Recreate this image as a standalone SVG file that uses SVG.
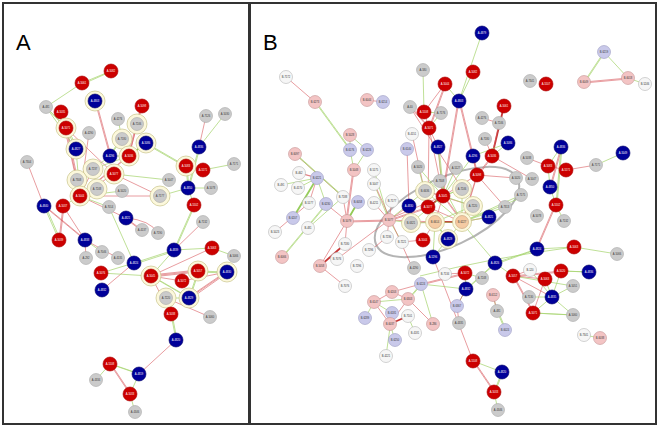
<svg xmlns="http://www.w3.org/2000/svg" width="660" height="429" viewBox="0 0 660 429">
<style>
.fr{fill:none;stroke:#333;stroke-width:2}
.lab{font-family:"Liberation Sans",Arial,sans-serif;font-size:22px;fill:#000}
.r{stroke:#d9595e;stroke-width:.7;fill:none;opacity:.85}
.rr{stroke:#c02020;stroke-width:1.8;fill:none;opacity:.9}
.g{stroke:#a6d46e;stroke-width:.8;fill:none;opacity:.9}
.gg{stroke:#8cc84a;stroke-width:1.8;fill:none;opacity:.9}
.R{fill:#cc0000;stroke:#a80000;stroke-width:.6}
.B{fill:#000099;stroke:#000066;stroke-width:.6}
.G{fill:#cbcbcb;stroke:#a8a8a8;stroke-width:.6}
.P{fill:#f3c4c4;stroke:#c49494;stroke-width:.6}
.L{fill:#c9c9ea;stroke:#9c9cc2;stroke-width:.6}
.W{fill:#f6f6f6;stroke:#b5b5b5;stroke-width:.6}
.O{fill:#f5cba3;stroke:#c49c78;stroke-width:.6}
.h{fill:#fcf8dc;stroke:#c9c48a;stroke-width:.7}
.ell{fill:none;stroke:#b4b4b4;stroke-width:2}
text.t{font-family:"Liberation Sans",Arial,sans-serif;font-size:2.6px;text-anchor:middle;fill:#333}
text.w{font-family:"Liberation Sans",Arial,sans-serif;font-size:2.6px;text-anchor:middle;fill:#fff}
</style>
<rect x="0" y="0" width="660" height="429" fill="#fff"/>
<rect class="fr" x="3" y="3" width="246" height="421"/>
<rect class="fr" x="250" y="3" width="406" height="421"/>
<text class="lab" x="16" y="50">A</text>
<text class="lab" x="263" y="50">B</text>
<ellipse class="ell" cx="447" cy="212" rx="78" ry="34" transform="rotate(-25 447 212)"/>
<g id="connectors">
<path class="g" d="M111,71L82,83M110,72L83,84M82,83L46,107M46,107L66,128M47,108L67,129"/>
<path class="r" d="M61,112L80,196M95,101L110,156M96,101L111,156M142,106L129,156M141,106L128,156M142,106L137,124"/>
<path class="r" d="M66,128L80,196M67,128L81,196M66,128L114,174"/>
<path class="g" d="M66,128L76,149M67,127L77,148M76,149L80,196M46,107L76,149"/>
<path class="g" d="M118,119L122,139M122,139L129,156M122,139L110,156M121,139L109,156"/>
<path class="gg" d="M146,143L129,156M122,139L129,156"/>
<path class="r" d="M137,124L129,156M129,156L80,196M128,156L79,196"/>
<path class="g" d="M146,143L186,166M146,144L186,167M110,156L129,156M110,156L93,169M129,156L93,169"/>
<path class="r" d="M114,174L80,196M114,174L160,196M93,169L80,196M80,196L160,196M80,196L126,218M89,133L80,196"/>
<path class="g" d="M114,174L169,180M77,180L80,196M97,189L80,196M80,196L122,191M80,196L109,207M80,196L63,206M160,196L188,188"/>
<path class="r" d="M27,162L44,206M44,206L85,240M45,206L86,240M63,206L85,240M85,240L118,258M85,240L86,258"/>
<path class="r" d="M63,206L59,240M64,206L60,240M126,218L142,230M126,219L142,231M126,218Q150,220 158,233"/>
<path class="g" d="M44,206L59,240M45,205L60,239M85,240L102,252M109,207L134,263"/>
<path class="r" d="M199,147L206,116"/>
<path class="g" d="M199,147L225,114M199,147L188,188M200,147L189,188M186,166L188,188M187,166L189,188M203,170L234,164M188,188L194,205M188,188L211,188"/>
<path class="r" d="M186,166L203,170"/>
<path class="g" d="M194,205L174,250M195,205L175,250M174,250L212,248M174,250L134,263M175,251L135,264M174,250L151,276M134,263L101,273"/>
<path class="r" d="M174,250L203,222M212,248L151,276M134,263L102,290"/>
<path class="g" d="M212,248L234,256M101,273L151,276M151,276L189,298M152,276L190,298"/>
<path class="r" d="M151,276L198,271M151,277L198,272M151,275L198,270M151,276L182,281M151,276L171,314"/>
<path class="g" d="M198,271L227,272M198,272L227,273M198,271L189,298M199,271L190,298M166,298L189,298"/>
<path class="r" d="M227,272L189,298M227,273L190,299M227,271L189,297M227,272L182,281M166,298L171,314M166,298L210,317"/>
<path class="g" d="M171,314L176,340M172,314L177,340M110,364L139,374M111,364L140,374M110,364L96,380M139,374L130,394"/>
<path class="r" d="M176,340L139,374M110,364L130,394M111,364L131,394"/>
<path class="g" d="M130,394L135,412"/>
<path class="r" d="M286,77L315,102M367,100L383,102"/>
<path class="g" d="M315,102L350,150M316,102L351,150M350,135L350,150M350,135L367,150M350,150L354,170M367,150L354,170M423,70L424,112"/>
<path class="r" d="M410,107L429,128M411,107L430,128M445,84L424,112M445,84L429,128M446,84L430,128M424,112L429,128M429,128L438,147M429,128L443,196M429,128L428,207M412,134L428,207"/>
<path class="g" d="M441,113L429,128M445,84L459,101M459,101L482,33M459,101L473,72M441,113L424,112"/>
<path class="r" d="M459,101L477,175M460,101L478,175M459,101L443,196M458,101L442,196M410,107L463,190"/>
<path class="g" d="M604,52L584,82M605,52L585,82M604,52L628,78M628,78L645,84"/>
<path class="r" d="M584,82L628,78M584,83L628,79"/>
<path class="rr" d="M504,106L492,156"/>
<path class="r" d="M482,118L499,123M499,123L492,156M485,139L492,156M561,147L550,187M562,147L551,187M527,158L548,166M566,170L596,165M566,170L548,166"/>
<path class="g" d="M508,143L492,156M508,143L473,156M561,147L556,205M562,147L557,205M596,165L623,153M550,187L556,205M556,205L564,221M548,166L550,187M561,147L548,166"/>
<path class="r" d="M556,205L537,249M555,205L536,249M516,178L477,175M532,179L492,156"/>
<path class="g" d="M537,249L574,247M574,247L617,254M537,249L495,263M538,249L496,264M574,247Q490,258 420,276"/>
<path class="r" d="M407,149L409,206M438,147L443,196M473,156L477,175M492,156L477,175M492,157L478,176M477,175L443,196M477,175L462,222M477,176L463,222M477,175L505,207"/>
<path class="g" d="M438,147L443,196M439,147L444,196M473,156L443,196M456,168L443,196M418,167L443,196M440,181L462,222"/>
<path class="r" d="M354,170L347,221M353,170L346,221M295,154L343,197"/>
<path class="g" d="M295,154L343,197M296,154L344,197M281,185L317,178M298,188L317,178M317,178L326,204M358,202L347,221"/>
<path class="r" d="M299,173L317,178M300,173L318,178M317,178L309,203M309,203L275,232M326,204L347,221M347,221L389,220M347,222L389,221M347,221L345,244M343,197L347,221M347,221L320,266M374,203L389,220"/>
<path class="gg" d="M358,202L347,221M317,178L293,218"/>
<path class="rr" d="M345,244L320,266"/>
<path class="g" d="M326,204L282,257M327,204L283,257M343,197L308,228M374,170L389,220M374,184L389,220"/>
<path class="r" d="M389,220L409,206M389,220L392,201M389,220L387,237M389,220L428,207M389,221L428,208M389,220L435,222M389,219L443,196M389,220L337,259M402,242L423,240M387,237L370,251"/>
<path class="g" d="M389,220L411,223M389,220L425,191M389,220L402,242"/>
<path class="r" d="M425,191L443,196M443,196L435,222M443,196L462,222M428,207L462,222M428,207L435,222M444,196L463,222M411,223L435,222M425,191L473,206M423,240L435,222M462,222L489,217"/>
<path class="rr" d="M435,222L462,222M443,196L428,207"/>
<path class="g" d="M425,191L435,222M462,189L462,222M462,189L443,196M473,206L462,222M489,217L462,222M435,222L448,239M462,222L448,239M434,222L447,239M411,223L462,222M435,222L473,206M443,196L473,206M425,191L462,222M411,223L443,196M462,222L505,207M443,196L462,189M462,222L523,197M418,167L425,191"/>
<path class="g" d="M448,239L433,257M435,222L433,257M462,222L521,195M462,223L496,263"/>
<path class="r" d="M433,257L473,361M445,274L465,273M374,183L412,267"/>
<path class="g" d="M465,273L482,278M465,273L466,289M466,289L495,263M467,289L496,263M466,289L457,306M421,284L466,289"/>
<path class="r" d="M466,289L457,306M457,306L459,323M421,284L465,273M421,285L465,274"/>
<path class="r" d="M513,276L530,270M513,276L545,279M513,276L561,271M513,277L561,272M513,276L552,297M513,276L533,313M514,276L534,313M545,279L533,313"/>
<path class="g" d="M513,276L573,286M530,270L552,297M545,279L552,297M561,271L552,297M561,271L589,272M562,271L590,272M552,297L533,313M552,297L573,315M529,297L552,297M533,313L573,315M534,313L574,315M573,286L552,297"/>
<path class="g" d="M495,263L513,276M493,295L497,311M497,311L505,330M498,311L506,330M584,335L600,338"/>
<path class="r" d="M493,295L497,311"/>
<path class="g" d="M502,372L494,392M503,372L495,392M473,361L502,372M494,392L498,410"/>
<path class="r" d="M473,361L494,392M474,361L495,392"/>
<path class="r" d="M345,286L320,266M392,292L374,302M392,292L408,299M408,299L390,324M408,299L433,324M374,302L390,324M392,292L421,284"/>
<path class="g" d="M374,302L408,299M374,302L392,313M374,302L365,318M408,299L421,284M409,299L422,284M421,284L433,324M392,313L386,356M390,324L395,340M408,316L415,333M392,313L390,324"/>
<path class="rr" d="M390,324L408,316"/>
</g>
<g id="node-a1"><circle class="R" cx="111" cy="71" r="7"/><text class="w" x="111" y="72">A-5082</text></g>
<g id="node-a2"><circle class="R" cx="82" cy="83" r="7"/><text class="w" x="82" y="84">A-5061</text></g>
<g id="node-a3"><circle class="G" cx="46" cy="107" r="6.5"/><text class="t" x="46" y="108">A-481</text></g>
<g id="node-a4"><circle class="h" cx="95" cy="101" r="10"/><circle class="B" cx="95" cy="101" r="7"/><text class="w" x="95" y="102">A-4803</text></g>
<g id="node-a5"><circle class="R" cx="61" cy="112" r="7"/><text class="w" x="61" y="113">A-5035</text></g>
<g id="node-a6"><circle class="R" cx="142" cy="106" r="7"/><text class="w" x="142" y="107">A-5098</text></g>
<g id="node-a7"><circle class="G" cx="118" cy="119" r="6.5"/><text class="t" x="118" y="120">A-4276</text></g>
<g id="node-a8"><circle class="h" cx="137" cy="124" r="10"/><circle class="G" cx="137" cy="124" r="6.5"/><text class="t" x="137" y="125">A-7246</text></g>
<g id="node-a9"><circle class="h" cx="66" cy="128" r="10"/><circle class="R" cx="66" cy="128" r="7"/><text class="w" x="66" y="129">A-5071</text></g>
<g id="node-a10"><circle class="G" cx="89" cy="133" r="6.5"/><text class="t" x="89" y="134">A-4290</text></g>
<g id="node-a11"><circle class="h" cx="122" cy="139" r="10"/><circle class="G" cx="122" cy="139" r="6.5"/><text class="t" x="122" y="140">A-7180</text></g>
<g id="node-a12"><circle class="h" cx="146" cy="143" r="10"/><circle class="B" cx="146" cy="143" r="7"/><text class="w" x="146" y="144">A-5086</text></g>
<g id="node-a13"><circle class="h" cx="76" cy="149" r="10"/><circle class="B" cx="76" cy="149" r="7"/><text class="w" x="76" y="150">A-4827</text></g>
<g id="node-a14"><circle class="B" cx="110" cy="156" r="7"/><text class="w" x="110" y="157">A-4296</text></g>
<g id="node-a15"><circle class="h" cx="129" cy="156" r="10"/><circle class="R" cx="129" cy="156" r="7"/><text class="w" x="129" y="157">A-5036</text></g>
<g id="node-a16"><circle class="G" cx="27" cy="162" r="6.5"/><text class="t" x="27" y="163">A-7304</text></g>
<g id="node-a17"><circle class="h" cx="93" cy="169" r="10"/><circle class="G" cx="93" cy="169" r="6.5"/><text class="t" x="93" y="170">A-7237</text></g>
<g id="node-a18"><circle class="h" cx="114" cy="174" r="10"/><circle class="R" cx="114" cy="174" r="7"/><text class="w" x="114" y="175">A-5077</text></g>
<g id="node-a19"><circle class="h" cx="77" cy="180" r="10"/><circle class="G" cx="77" cy="180" r="6.5"/><text class="t" x="77" y="181">A-7308</text></g>
<g id="node-a20"><circle class="h" cx="97" cy="189" r="10"/><circle class="G" cx="97" cy="189" r="6.5"/><text class="t" x="97" y="190">A-7248</text></g>
<g id="node-a21"><circle class="h" cx="80" cy="196" r="10"/><circle class="R" cx="80" cy="196" r="7"/><text class="w" x="80" y="197">A-5044</text></g>
<g id="node-a22"><circle class="G" cx="122" cy="191" r="6.5"/><text class="t" x="122" y="192">A-5020</text></g>
<g id="node-a23"><circle class="G" cx="169" cy="180" r="6.5"/><text class="t" x="169" y="181">A-5047</text></g>
<g id="node-a24"><circle class="h" cx="160" cy="196" r="10"/><circle class="G" cx="160" cy="196" r="6.5"/><text class="t" x="160" y="197">A-7177</text></g>
<g id="node-a25"><circle class="G" cx="206" cy="116" r="6.5"/><text class="t" x="206" y="117">A-7126</text></g>
<g id="node-a26"><circle class="G" cx="225" cy="114" r="6.5"/><text class="t" x="225" y="115">A-5030</text></g>
<g id="node-a27"><circle class="B" cx="199" cy="147" r="7"/><text class="w" x="199" y="148">A-4836</text></g>
<g id="node-a28"><circle class="h" cx="186" cy="166" r="10"/><circle class="R" cx="186" cy="166" r="7"/><text class="w" x="186" y="167">A-5083</text></g>
<g id="node-a29"><circle class="R" cx="203" cy="170" r="7"/><text class="w" x="203" y="171">A-5171</text></g>
<g id="node-a30"><circle class="G" cx="234" cy="164" r="6.5"/><text class="t" x="234" y="165">A-7171</text></g>
<g id="node-a31"><circle class="B" cx="188" cy="188" r="7"/><text class="w" x="188" y="189">A-4850</text></g>
<g id="node-a32"><circle class="G" cx="211" cy="188" r="6.5"/><text class="t" x="211" y="189">A-5078</text></g>
<g id="node-a33"><circle class="R" cx="194" cy="205" r="7"/><text class="w" x="194" y="206">A-5102</text></g>
<g id="node-a34"><circle class="B" cx="44" cy="206" r="7"/><text class="w" x="44" y="207">A-4840</text></g>
<g id="node-a35"><circle class="R" cx="63" cy="206" r="7"/><text class="w" x="63" y="207">A-5037</text></g>
<g id="node-a36"><circle class="G" cx="109" cy="207" r="6.5"/><text class="t" x="109" y="208">A-7014</text></g>
<g id="node-a37"><circle class="B" cx="126" cy="218" r="7"/><text class="w" x="126" y="219">A-4821</text></g>
<g id="node-a38"><circle class="G" cx="142" cy="230" r="6.5"/><text class="t" x="142" y="231">A-4137</text></g>
<g id="node-a39"><circle class="G" cx="158" cy="233" r="6.5"/><text class="t" x="158" y="234">A-7190</text></g>
<g id="node-a40"><circle class="G" cx="203" cy="222" r="6.5"/><text class="t" x="203" y="223">A-7132</text></g>
<g id="node-a41"><circle class="R" cx="59" cy="240" r="7"/><text class="w" x="59" y="241">A-5039</text></g>
<g id="node-a42"><circle class="B" cx="85" cy="240" r="7"/><text class="w" x="85" y="241">A-4838</text></g>
<g id="node-a43"><circle class="G" cx="102" cy="252" r="6.5"/><text class="t" x="102" y="253">A-7046</text></g>
<g id="node-a44"><circle class="G" cx="86" cy="258" r="6.5"/><text class="t" x="86" y="259">A-292</text></g>
<g id="node-a45"><circle class="G" cx="118" cy="258" r="6.5"/><text class="t" x="118" y="259">A-4135</text></g>
<g id="node-a46"><circle class="B" cx="174" cy="250" r="7"/><text class="w" x="174" y="251">A-4839</text></g>
<g id="node-a47"><circle class="R" cx="212" cy="248" r="7"/><text class="w" x="212" y="249">A-5063</text></g>
<g id="node-a48"><circle class="G" cx="234" cy="256" r="6.5"/><text class="t" x="234" y="257">A-5066</text></g>
<g id="node-a49"><circle class="B" cx="134" cy="263" r="7"/><text class="w" x="134" y="264">A-4824</text></g>
<g id="node-a50"><circle class="R" cx="101" cy="273" r="7"/><text class="w" x="101" y="274">A-5076</text></g>
<g id="node-a51"><circle class="h" cx="151" cy="276" r="10"/><circle class="R" cx="151" cy="276" r="7"/><text class="w" x="151" y="277">A-5045</text></g>
<g id="node-a52"><circle class="h" cx="198" cy="271" r="10"/><circle class="R" cx="198" cy="271" r="7"/><text class="w" x="198" y="272">A-5057</text></g>
<g id="node-a53"><circle class="h" cx="227" cy="272" r="10"/><circle class="B" cx="227" cy="272" r="7"/><text class="w" x="227" y="273">A-4830</text></g>
<g id="node-a54"><circle class="R" cx="182" cy="281" r="7"/><text class="w" x="182" y="282">A-5072</text></g>
<g id="node-a55"><circle class="B" cx="102" cy="290" r="7"/><text class="w" x="102" y="291">A-4832</text></g>
<g id="node-a56"><circle class="h" cx="166" cy="298" r="10"/><circle class="G" cx="166" cy="298" r="6.5"/><text class="t" x="166" y="299">A-7220</text></g>
<g id="node-a57"><circle class="h" cx="189" cy="298" r="10"/><circle class="B" cx="189" cy="298" r="7"/><text class="w" x="189" y="299">A-4829</text></g>
<g id="node-a58"><circle class="R" cx="171" cy="314" r="7"/><text class="w" x="171" y="315">A-5038</text></g>
<g id="node-a59"><circle class="G" cx="210" cy="317" r="6.5"/><text class="t" x="210" y="318">A-5060</text></g>
<g id="node-a60"><circle class="B" cx="176" cy="340" r="7"/><text class="w" x="176" y="341">A-4820</text></g>
<g id="node-a61"><circle class="R" cx="110" cy="364" r="7"/><text class="w" x="110" y="365">A-5108</text></g>
<g id="node-a62"><circle class="B" cx="139" cy="374" r="7"/><text class="w" x="139" y="375">A-4819</text></g>
<g id="node-a63"><circle class="G" cx="96" cy="380" r="6.5"/><text class="t" x="96" y="381">A-4334</text></g>
<g id="node-a64"><circle class="R" cx="130" cy="394" r="7"/><text class="w" x="130" y="395">A-5033</text></g>
<g id="node-a65"><circle class="G" cx="135" cy="412" r="6.5"/><text class="t" x="135" y="413">A-4346</text></g>
<g id="node-b1"><circle class="W" cx="286" cy="77" r="6.5"/><text class="t" x="286" y="78">B-7172</text></g>
<g id="node-b2"><circle class="P" cx="315" cy="102" r="6.5"/><text class="t" x="315" y="103">B-6273</text></g>
<g id="node-b3"><circle class="P" cx="367" cy="100" r="6.5"/><text class="t" x="367" y="101">B-6044</text></g>
<g id="node-b4"><circle class="L" cx="383" cy="102" r="6.5"/><text class="t" x="383" y="103">B-6214</text></g>
<g id="node-b5"><circle class="P" cx="350" cy="135" r="6.5"/><text class="t" x="350" y="136">B-5028</text></g>
<g id="node-b6"><circle class="L" cx="350" cy="150" r="6.5"/><text class="t" x="350" y="151">B-6176</text></g>
<g id="node-b7"><circle class="L" cx="367" cy="150" r="6.5"/><text class="t" x="367" y="151">B-6226</text></g>
<g id="node-b8"><circle class="G" cx="423" cy="70" r="6.5"/><text class="t" x="423" y="71">A-580</text></g>
<g id="node-b9"><circle class="R" cx="445" cy="84" r="7"/><text class="w" x="445" y="85">A-5044</text></g>
<g id="node-b10"><circle class="G" cx="410" cy="107" r="6.5"/><text class="t" x="410" y="108">A-40</text></g>
<g id="node-b11"><circle class="R" cx="424" cy="112" r="7"/><text class="w" x="424" y="113">A-5108</text></g>
<g id="node-b12"><circle class="G" cx="441" cy="113" r="6.5"/><text class="t" x="441" y="114">A-7176</text></g>
<g id="node-b13"><circle class="R" cx="429" cy="128" r="7"/><text class="w" x="429" y="129">A-5071</text></g>
<g id="node-b14"><circle class="W" cx="412" cy="134" r="6.5"/><text class="t" x="412" y="135">B-4151</text></g>
<g id="node-b15"><circle class="B" cx="459" cy="101" r="7"/><text class="w" x="459" y="102">A-4803</text></g>
<g id="node-b16"><circle class="B" cx="482" cy="33" r="7"/><text class="w" x="482" y="34">A-4879</text></g>
<g id="node-b17"><circle class="R" cx="473" cy="72" r="7"/><text class="w" x="473" y="73">A-5082</text></g>
<g id="node-b18"><circle class="G" cx="530" cy="81" r="6.5"/><text class="t" x="530" y="82">A-7341</text></g>
<g id="node-b19"><circle class="R" cx="546" cy="84" r="7"/><text class="w" x="546" y="85">A-5107</text></g>
<g id="node-b20"><circle class="L" cx="604" cy="52" r="6.5"/><text class="t" x="604" y="53">B-6219</text></g>
<g id="node-b21"><circle class="P" cx="584" cy="82" r="6.5"/><text class="t" x="584" y="83">B-6049</text></g>
<g id="node-b22"><circle class="P" cx="628" cy="78" r="6.5"/><text class="t" x="628" y="79">B-6018</text></g>
<g id="node-b23"><circle class="W" cx="645" cy="84" r="6.5"/><text class="t" x="645" y="85">B-5246</text></g>
<g id="node-b24"><circle class="R" cx="504" cy="106" r="7"/><text class="w" x="504" y="107">A-5061</text></g>
<g id="node-b25"><circle class="G" cx="482" cy="118" r="6.5"/><text class="t" x="482" y="119">A-4276</text></g>
<g id="node-b26"><circle class="G" cx="499" cy="123" r="6.5"/><text class="t" x="499" y="124">A-7246</text></g>
<g id="node-b27"><circle class="G" cx="485" cy="139" r="6.5"/><text class="t" x="485" y="140">A-7180</text></g>
<g id="node-b28"><circle class="B" cx="508" cy="143" r="7"/><text class="w" x="508" y="144">A-5086</text></g>
<g id="node-b29"><circle class="B" cx="561" cy="147" r="7"/><text class="w" x="561" y="148">A-4836</text></g>
<g id="node-b30"><circle class="B" cx="623" cy="153" r="7"/><text class="w" x="623" y="154">A-5049</text></g>
<g id="node-b31"><circle class="G" cx="527" cy="158" r="6.5"/><text class="t" x="527" y="159">A-5038</text></g>
<g id="node-b32"><circle class="R" cx="548" cy="166" r="7"/><text class="w" x="548" y="167">A-5083</text></g>
<g id="node-b33"><circle class="R" cx="566" cy="170" r="7"/><text class="w" x="566" y="171">A-5171</text></g>
<g id="node-b34"><circle class="G" cx="596" cy="165" r="6.5"/><text class="t" x="596" y="166">A-7171</text></g>
<g id="node-b35"><circle class="G" cx="516" cy="178" r="6.5"/><text class="t" x="516" y="179">A-5020</text></g>
<g id="node-b36"><circle class="G" cx="532" cy="179" r="6.5"/><text class="t" x="532" y="180">A-5047</text></g>
<g id="node-b37"><circle class="B" cx="550" cy="187" r="7"/><text class="w" x="550" y="188">A-4850</text></g>
<g id="node-b38"><circle class="G" cx="521" cy="195" r="6.5"/><text class="t" x="521" y="196">A-7175</text></g>
<g id="node-b39"><circle class="R" cx="556" cy="205" r="7"/><text class="w" x="556" y="206">A-5102</text></g>
<g id="node-b40"><circle class="G" cx="537" cy="216" r="6.5"/><text class="t" x="537" y="217">A-5078</text></g>
<g id="node-b41"><circle class="G" cx="564" cy="221" r="6.5"/><text class="t" x="564" y="222">A-7132</text></g>
<g id="node-b42"><circle class="B" cx="537" cy="249" r="7"/><text class="w" x="537" y="250">A-4824</text></g>
<g id="node-b43"><circle class="R" cx="574" cy="247" r="7"/><text class="w" x="574" y="248">A-5063</text></g>
<g id="node-b44"><circle class="G" cx="617" cy="254" r="6.5"/><text class="t" x="617" y="255">A-5066</text></g>
<g id="node-b45"><circle class="L" cx="407" cy="149" r="6.5"/><text class="t" x="407" y="150">B-6140</text></g>
<g id="node-b46"><circle class="B" cx="438" cy="147" r="7"/><text class="w" x="438" y="148">A-4827</text></g>
<g id="node-b47"><circle class="B" cx="473" cy="156" r="7"/><text class="w" x="473" y="157">A-4296</text></g>
<g id="node-b48"><circle class="R" cx="492" cy="156" r="7"/><text class="w" x="492" y="157">A-5036</text></g>
<g id="node-b49"><circle class="P" cx="354" cy="170" r="6.5"/><text class="t" x="354" y="171">B-5048</text></g>
<g id="node-b50"><circle class="W" cx="374" cy="170" r="6.5"/><text class="t" x="374" y="171">B-5175</text></g>
<g id="node-b51"><circle class="P" cx="295" cy="154" r="6.5"/><text class="t" x="295" y="155">B-6097</text></g>
<g id="node-b52"><circle class="W" cx="299" cy="173" r="6.5"/><text class="t" x="299" y="174">B-462</text></g>
<g id="node-b53"><circle class="W" cx="281" cy="185" r="6.5"/><text class="t" x="281" y="186">B-491</text></g>
<g id="node-b54"><circle class="W" cx="298" cy="188" r="6.5"/><text class="t" x="298" y="189">B-4170</text></g>
<g id="node-b55"><circle class="L" cx="317" cy="178" r="6.5"/><text class="t" x="317" y="179">B-6221</text></g>
<g id="node-b56"><circle class="W" cx="309" cy="203" r="6.5"/><text class="t" x="309" y="204">B-5177</text></g>
<g id="node-b57"><circle class="L" cx="326" cy="204" r="6.5"/><text class="t" x="326" y="205">B-6230</text></g>
<g id="node-b58"><circle class="W" cx="343" cy="197" r="6.5"/><text class="t" x="343" y="198">B-7188</text></g>
<g id="node-b59"><circle class="L" cx="358" cy="202" r="6.5"/><text class="t" x="358" y="203">B-6058</text></g>
<g id="node-b60"><circle class="W" cx="374" cy="184" r="6.5"/><text class="t" x="374" y="185">B-5047</text></g>
<g id="node-b61"><circle class="W" cx="374" cy="203" r="6.5"/><text class="t" x="374" y="204">B-4211</text></g>
<g id="node-b62"><circle class="P" cx="347" cy="221" r="6.5"/><text class="t" x="347" y="222">B-5079</text></g>
<g id="node-b63"><circle class="L" cx="293" cy="218" r="6.5"/><text class="t" x="293" y="219">B-6207</text></g>
<g id="node-b64"><circle class="W" cx="275" cy="232" r="6.5"/><text class="t" x="275" y="233">B-5023</text></g>
<g id="node-b65"><circle class="W" cx="308" cy="228" r="6.5"/><text class="t" x="308" y="229">B-481</text></g>
<g id="node-b66"><circle class="W" cx="345" cy="244" r="6.5"/><text class="t" x="345" y="245">B-7180</text></g>
<g id="node-b67"><circle class="W" cx="369" cy="250" r="6.5"/><text class="t" x="369" y="251">B-7296</text></g>
<g id="node-b68"><circle class="P" cx="282" cy="257" r="6.5"/><text class="t" x="282" y="258">B-6066</text></g>
<g id="node-b69"><circle class="P" cx="320" cy="266" r="6.5"/><text class="t" x="320" y="267">B-5058</text></g>
<g id="node-b70"><circle class="W" cx="337" cy="259" r="6.5"/><text class="t" x="337" y="260">B-7076</text></g>
<g id="node-b71"><circle class="W" cx="357" cy="266" r="6.5"/><text class="t" x="357" y="267">B-7296</text></g>
<g id="node-b72"><circle class="W" cx="392" cy="201" r="6.5"/><text class="t" x="392" y="202">B-7177</text></g>
<g id="node-b73"><circle class="P" cx="389" cy="220" r="6.5"/><text class="t" x="389" y="221">B-5077</text></g>
<g id="node-b74"><circle class="W" cx="387" cy="237" r="6.5"/><text class="t" x="387" y="238">B-7236</text></g>
<g id="node-b75"><circle class="W" cx="402" cy="242" r="6.5"/><text class="t" x="402" y="243">B-7221</text></g>
<g id="node-b76"><circle class="G" cx="418" cy="167" r="6.5"/><text class="t" x="418" y="168">A-5020</text></g>
<g id="node-b77"><circle class="G" cx="456" cy="168" r="6.5"/><text class="t" x="456" y="169">A-5127</text></g>
<g id="node-b78"><circle class="R" cx="477" cy="175" r="7"/><text class="w" x="477" y="176">A-5098</text></g>
<g id="node-b79"><circle class="G" cx="440" cy="181" r="6.5"/><text class="t" x="440" y="182">A-7308</text></g>
<g id="node-b80"><circle class="h" cx="425" cy="191" r="9.5"/><circle class="G" cx="425" cy="191" r="6.5"/><text class="t" x="425" y="192">B-6636</text></g>
<g id="node-b81"><circle class="h" cx="462" cy="189" r="9.5"/><circle class="G" cx="462" cy="189" r="6.5"/><text class="t" x="462" y="190">A-7246</text></g>
<g id="node-b82"><circle class="R" cx="443" cy="196" r="7"/><text class="w" x="443" y="197">A-5045</text></g>
<g id="node-b83"><circle class="R" cx="428" cy="207" r="7"/><text class="w" x="428" y="208">A-5077</text></g>
<g id="node-b84"><circle class="B" cx="409" cy="206" r="7"/><text class="w" x="409" y="207">A-4830</text></g>
<g id="node-b85"><circle class="h" cx="473" cy="206" r="9.5"/><circle class="G" cx="473" cy="206" r="6.5"/><text class="t" x="473" y="207">A-7220</text></g>
<g id="node-b86"><circle class="G" cx="505" cy="207" r="6.5"/><text class="t" x="505" y="208">A-7313</text></g>
<g id="node-b88"><circle class="B" cx="489" cy="217" r="7"/><text class="w" x="489" y="218">A-4821</text></g>
<g id="node-b89"><circle class="h" cx="411" cy="223" r="9.5"/><circle class="G" cx="411" cy="223" r="6.5"/><text class="t" x="411" y="224">B-6321</text></g>
<g id="node-b90"><circle class="h" cx="435" cy="222" r="9.5"/><circle class="O" cx="435" cy="222" r="6.5"/><text class="t" x="435" y="223">B-6614</text></g>
<g id="node-b91"><circle class="h" cx="462" cy="222" r="9.5"/><circle class="O" cx="462" cy="222" r="6.5"/><text class="t" x="462" y="223">B-6227</text></g>
<g id="node-b92"><circle class="R" cx="423" cy="240" r="7"/><text class="w" x="423" y="241">A-5044</text></g>
<g id="node-b93"><circle class="h" cx="448" cy="239" r="9.5"/><circle class="B" cx="448" cy="239" r="7"/><text class="w" x="448" y="240">A-4829</text></g>
<g id="node-b94"><circle class="B" cx="433" cy="257" r="7"/><text class="w" x="433" y="258">A-5296</text></g>
<g id="node-b95"><circle class="G" cx="414" cy="268" r="6.5"/><text class="t" x="414" y="269">A-4290</text></g>
<g id="node-b96"><circle class="W" cx="445" cy="274" r="6.5"/><text class="t" x="445" y="275">B-7134</text></g>
<g id="node-b97"><circle class="R" cx="465" cy="273" r="7"/><text class="w" x="465" y="274">A-5072</text></g>
<g id="node-b98"><circle class="G" cx="482" cy="278" r="6.5"/><text class="t" x="482" y="279">A-7248</text></g>
<g id="node-b99"><circle class="B" cx="466" cy="289" r="7"/><text class="w" x="466" y="290">A-4832</text></g>
<g id="node-b100"><circle class="L" cx="457" cy="306" r="6.5"/><text class="t" x="457" y="307">B-6367</text></g>
<g id="node-b101"><circle class="G" cx="459" cy="323" r="6.5"/><text class="t" x="459" y="324">A-4335</text></g>
<g id="node-b102"><circle class="B" cx="495" cy="263" r="7"/><text class="w" x="495" y="264">A-4826</text></g>
<g id="node-b103"><circle class="R" cx="513" cy="276" r="7"/><text class="w" x="513" y="277">A-5057</text></g>
<g id="node-b104"><circle class="W" cx="530" cy="270" r="6.5"/><text class="t" x="530" y="271">B-120</text></g>
<g id="node-b105"><circle class="R" cx="545" cy="279" r="7"/><text class="w" x="545" y="280">A-5063</text></g>
<g id="node-b106"><circle class="R" cx="561" cy="271" r="7"/><text class="w" x="561" y="272">A-5020</text></g>
<g id="node-b107"><circle class="B" cx="589" cy="272" r="7"/><text class="w" x="589" y="273">A-4836</text></g>
<g id="node-b108"><circle class="G" cx="573" cy="286" r="6.5"/><text class="t" x="573" y="287">A-5051</text></g>
<g id="node-b109"><circle class="G" cx="529" cy="297" r="6.5"/><text class="t" x="529" y="298">A-7130</text></g>
<g id="node-b110"><circle class="B" cx="552" cy="297" r="7"/><text class="w" x="552" y="298">A-4835</text></g>
<g id="node-b111"><circle class="R" cx="533" cy="313" r="7"/><text class="w" x="533" y="314">A-5071</text></g>
<g id="node-b112"><circle class="G" cx="573" cy="315" r="6.5"/><text class="t" x="573" y="316">A-5060</text></g>
<g id="node-b113"><circle class="P" cx="493" cy="295" r="6.5"/><text class="t" x="493" y="296">B-6112</text></g>
<g id="node-b114"><circle class="G" cx="497" cy="311" r="6.5"/><text class="t" x="497" y="312">A-481</text></g>
<g id="node-b115"><circle class="L" cx="505" cy="330" r="6.5"/><text class="t" x="505" y="331">B-6024</text></g>
<g id="node-b116"><circle class="W" cx="584" cy="335" r="6.5"/><text class="t" x="584" y="336">B-7341</text></g>
<g id="node-b117"><circle class="P" cx="600" cy="338" r="6.5"/><text class="t" x="600" y="339">B-6038</text></g>
<g id="node-b118"><circle class="B" cx="502" cy="372" r="7"/><text class="w" x="502" y="373">A-4820</text></g>
<g id="node-b119"><circle class="R" cx="494" cy="392" r="7"/><text class="w" x="494" y="393">A-5033</text></g>
<g id="node-b120"><circle class="G" cx="498" cy="410" r="6.5"/><text class="t" x="498" y="411">A-4346</text></g>
<g id="node-b121"><circle class="R" cx="473" cy="361" r="7"/><text class="w" x="473" y="362">A-5108</text></g>
<g id="node-b122"><circle class="W" cx="345" cy="286" r="6.5"/><text class="t" x="345" y="287">B-7076</text></g>
<g id="node-b123"><circle class="P" cx="392" cy="292" r="6.5"/><text class="t" x="392" y="293">B-6203</text></g>
<g id="node-b124"><circle class="P" cx="374" cy="302" r="6.5"/><text class="t" x="374" y="303">B-6147</text></g>
<g id="node-b125"><circle class="P" cx="408" cy="299" r="6.5"/><text class="t" x="408" y="300">B-6303</text></g>
<g id="node-b126"><circle class="L" cx="421" cy="284" r="6.5"/><text class="t" x="421" y="285">B-6224</text></g>
<g id="node-b127"><circle class="L" cx="392" cy="313" r="6.5"/><text class="t" x="392" y="314">B-6181</text></g>
<g id="node-b128"><circle class="L" cx="365" cy="318" r="6.5"/><text class="t" x="365" y="319">B-6289</text></g>
<g id="node-b129"><circle class="W" cx="408" cy="316" r="6.5"/><text class="t" x="408" y="317">B-7101</text></g>
<g id="node-b130"><circle class="P" cx="390" cy="324" r="6.5"/><text class="t" x="390" y="325">B-6037</text></g>
<g id="node-b131"><circle class="P" cx="433" cy="324" r="6.5"/><text class="t" x="433" y="325">B-286</text></g>
<g id="node-b132"><circle class="W" cx="415" cy="333" r="6.5"/><text class="t" x="415" y="334">B-4181</text></g>
<g id="node-b133"><circle class="L" cx="395" cy="340" r="6.5"/><text class="t" x="395" y="341">B-6250</text></g>
<g id="node-b134"><circle class="W" cx="386" cy="356" r="6.5"/><text class="t" x="386" y="357">B-4221</text></g>
</svg>
